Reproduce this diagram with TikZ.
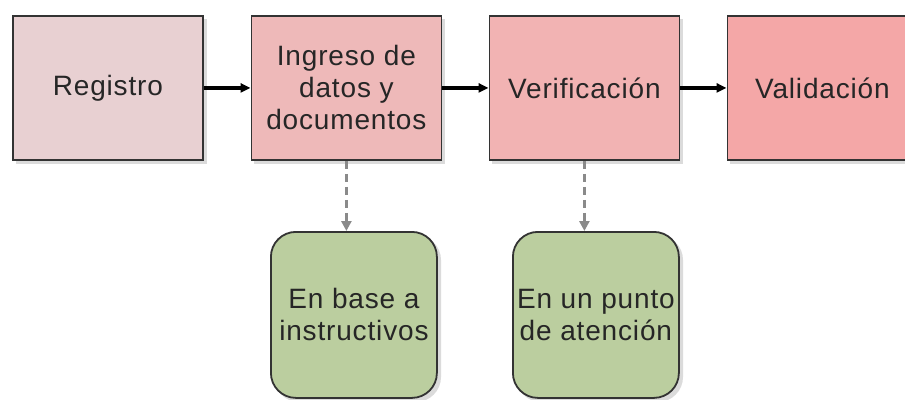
\documentclass[tikz,border=0pt]{standalone}
\usepackage{fontspec}
\setmainfont[LetterSpace=3]{Liberation Sans}
\usetikzlibrary{arrows.meta}
\definecolor{cReg}{HTML}{E8D0D2}
\definecolor{cIng}{HTML}{EEB9B9}
\definecolor{cVer}{HTML}{F2B3B3}
\definecolor{cVal}{HTML}{F4A7A7}
\definecolor{cGreen}{HTML}{BBCE9F}
\definecolor{cBorder}{HTML}{333333}
\definecolor{cDash}{HTML}{8A8A8A}
\tikzset{
  every node/.style={font=\fontsize{28}{32}\selectfont, text=black!85},
  procbox/.style={draw=cBorder, line width=1.8pt, minimum width=190pt, minimum height=144pt, inner sep=0pt, align=center, anchor=north west},
  notebox/.style={draw=cBorder, line width=1.8pt, rounded corners=25pt, minimum width=166pt, minimum height=166pt, inner sep=0pt, align=center, anchor=north west},
  flow/.style={line width=3.5pt, -{Triangle[length=10pt,width=9pt]}},
  dashflow/.style={line width=3.5pt, draw=cDash, dash pattern=on 8pt off 5pt, -{Triangle[length=10pt,width=10pt]}},
}
\begin{document}
\begin{tikzpicture}[x=1pt,y=-1pt]
\useasboundingbox (0,0) rectangle (905,399);
% shadows
\fill[black!14] (16,19) rectangle (207,164);
\fill[black!14] (254,19) rectangle (445,164);
\fill[black!14] (492,19) rectangle (683,164);
\fill[black!14] (730,19) rectangle (921,164);
\fill[black!14, rounded corners=25pt] (274,235) rectangle (441,402);
\fill[black!14, rounded corners=25pt] (516,235) rectangle (683,402);
% process boxes
\node[procbox, fill=cReg] (reg) at (12,15) {Registro};
\node[procbox, fill=cIng] (ing) at (250.5,15) {Ingreso de\\datos y\\documentos};
\node[procbox, fill=cVer] (ver) at (488.5,15) {Verificación};
\node[procbox, fill=cVal] (val) at (726.5,15) {Validación};
% note boxes
\node[notebox, fill=cGreen] (base) at (270,231) {En base a\\instructivos};
\node[notebox, fill=cGreen] (punto) at (512,231) {En un punto\\de atención};
% connectors
\draw[flow] (reg.east) -- (ing.west);
\draw[flow] (ing.east) -- (ver.west);
\draw[flow] (ver.east) -- (val.west);
\coordinate (a1) at (ing.south);
\coordinate (a2) at (ver.south);
\draw[dashflow] (a1) -- (a1 |- base.north);
\draw[dashflow] (a2) -- (a2 |- punto.north);
\end{tikzpicture}
\end{document}
